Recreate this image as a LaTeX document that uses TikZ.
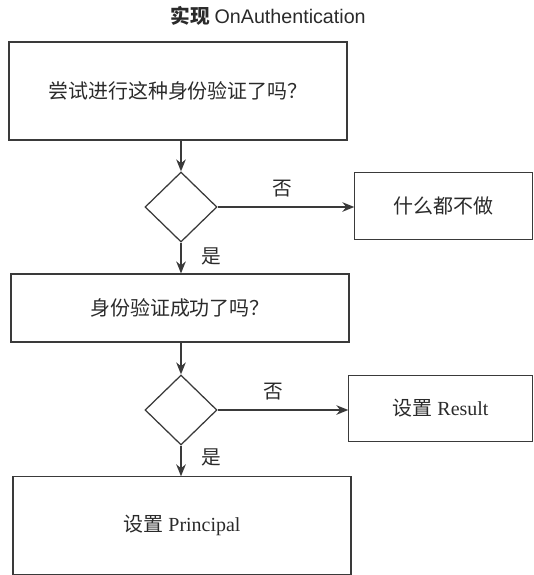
\documentclass[tikz,border=0pt]{standalone}
\usepackage{fontspec}
\setmainfont{Liberation Serif}
\setsansfont{Liberation Sans}
\newfontfamily\cjk{Noto Sans CJK SC}
\usepackage{tikz}
\usetikzlibrary{shapes.geometric, arrows.meta, positioning}
\definecolor{fline}{HTML}{3A3A3A}
\definecolor{ftext}{HTML}{2A2A2A}
\tikzset{
  box/.style={rectangle, draw=fline, line width=0.8pt, text=ftext, inner sep=0pt,
              minimum width=8.45cm, align=center, font=\fontsize{14.2}{17}\selectfont},
  sidebox/.style={box, minimum width=4.5cm, minimum height=1.67cm},
  choice/.style={diamond, draw=fline, line width=0.9pt, inner sep=0pt, aspect=1,
                 minimum width=1.8cm, minimum height=1.75cm},
  flow/.style={-{Stealth[length=3mm, width=2.4mm]}, draw=fline, line width=1pt},
  lbl/.style={text=ftext, font=\fontsize{14}{16}\selectfont\cjk}
}

\begin{document}
\begin{tikzpicture}[x=0.025cm, y=-0.025cm]
  \useasboundingbox (0,0) rectangle (534,575);
  % title
  \node[text=ftext, font=\fontsize{14}{16}\selectfont] (title) at (268,16)
    {{\cjk\bfseries 实现} \sffamily OnAuthentication};

  % main column
  \node[box, minimum height=2.45cm] (tried) at (178,91) {\cjk 尝试进行这种身份验证了吗？};
  \node[choice] (q1) at (181,207) {};
  \node[box, minimum height=1.7cm] (ok) at (180,308) {\cjk 身份验证成功了吗？};
  \node[choice] (q2) at (181,410) {};
  \node[box, minimum height=2.43cm] (principal) at (182,525.5) {{\cjk 设置} Principal};

  % side boxes
  \node[sidebox, minimum width=4.43cm] (nothing) at (443.5,206) {\cjk 什么都不做};
  \node[sidebox, minimum width=4.58cm] (result) at (440.5,408.5) {{\cjk 设置} Result};

  \draw[flow] (tried.south -| q1.north) -- (q1.north);
  \draw[flow] (q1.east) -- node[lbl, above=3pt, pos=0.47] {否} (nothing.west |- q1.east);
  \draw[flow] (q1.south) -- node[lbl, right=11pt, pos=0.45] {是} (ok.north -| q1.south);
  \draw[flow] (ok.south -| q2.north) -- (q2.north);
  \draw[flow] (q2.east) -- node[lbl, above=3pt, pos=0.43] {否} (result.west |- q2.east);
  \draw[flow] (q2.south) -- node[lbl, right=11pt, pos=0.4] {是} (principal.north -| q2.south);
\end{tikzpicture}
\end{document}
